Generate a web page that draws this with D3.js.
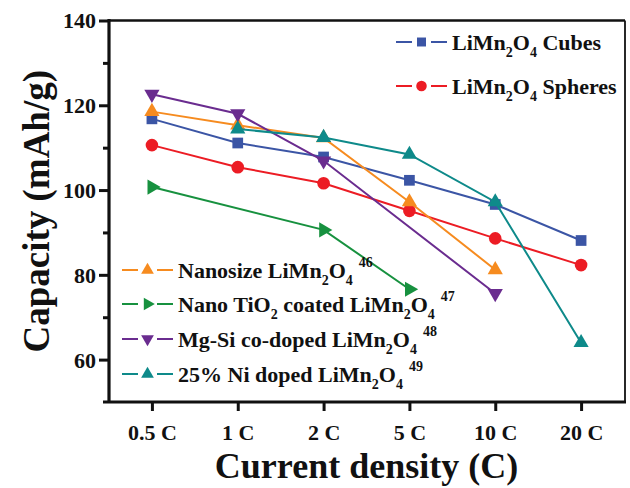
<!DOCTYPE html>
<html>
<head>
<meta charset="utf-8">
<script src="https://cdn.jsdelivr.net/npm/d3@7"></script>
<style>
  html, body { margin: 0; padding: 0; background: #fff; }
  svg { display: block; }
</style>
</head>
<body>
<svg id="chart" width="630" height="488"></svg>
<script>
// ---- data ----
const categories = ["0.5 C", "1 C", "2 C", "5 C", "10 C", "20 C"];
const cubes    = [116.8, 111.1, 107.8, 102.3, 96.6, 88.1];
const spheres  = [110.6, 105.4, 101.6, 95.1, 88.6, 82.3];
const nanosize = [118.5, 115.3, 112.3, 97.2, 81.2, null];
const tio2     = [100.7, null, 90.6, 76.6, null, null];
const mgsi     = [122.6, 118.0, 106.9, null, 75.6, null];
const ni       = [null, 114.4, 112.4, 108.4, 97.2, 64.0];
const yMajorTicks = [60, 80, 100, 120, 140];
const yMinorTicks = [70, 90, 110, 130];

const seriesValues = [cubes, spheres, nanosize, tio2, mgsi, ni];
const seriesColors = ["#3b55a5", "#ec1c24", "#f68b1f", "#17913f", "#6a2c8f", "#0e8a8a"];
const seriesShapes = ["square", "circle", "up", "right", "down", "up"];

const FONT = "Liberation Serif";
const svg = d3.select("#chart");
const L = 109, R = 624, T = 20.5, B = 402;

const x = d3.scalePoint().domain(categories).range([L, R]).padding(0.5);
const y = d3.scaleLinear().domain([50, 140]).range([B, T]);

function symbolPath(shape, scale) {
  const s = scale || 1;
  if (shape === "square") return d3.symbol(d3.symbolSquare, 115 * s)();
  if (shape === "circle") return d3.symbol(d3.symbolCircle, 125 * s)();
  return d3.symbol(d3.symbolTriangle, 100 * s)();
}
function symbolRot(shape) {
  if (shape === "down") return 180;
  if (shape === "right") return 90;
  return 0;
}
function styleText(sel, size) {
  sel.style("font-family", FONT).style("font-weight", "bold").style("font-size", size + "px").style("fill", "#111");
}

// ---- frame (top/right) ----
svg.append("line").attr("x1", L).attr("x2", R + 1).attr("y1", T).attr("y2", T)
  .attr("stroke", "#111").attr("stroke-width", 2.5);
svg.append("line").attr("x1", R + 1).attr("x2", R + 1).attr("y1", T).attr("y2", B)
  .attr("stroke", "#111").attr("stroke-width", 1.8);

// ---- axes ----
const yAxis = svg.append("g").attr("transform", `translate(${L},0)`)
  .call(d3.axisLeft(y).tickValues(yMajorTicks).tickSize(10).tickSizeOuter(0).tickPadding(3));
yAxis.select(".domain").remove();
yAxis.selectAll(".tick line").attr("stroke", "#111").attr("stroke-width", 3);
yAxis.selectAll(".tick text").call(styleText, 22).attr("dy", "0.34em");

const yMinor = svg.append("g").attr("transform", `translate(${L},0)`)
  .call(d3.axisLeft(y).tickValues(yMinorTicks).tickSize(6).tickFormat(""));
yMinor.select(".domain").remove();
yMinor.selectAll(".tick line").attr("stroke", "#111").attr("stroke-width", 3);

svg.append("line").attr("x1", L).attr("x2", L).attr("y1", T - 1.5).attr("y2", B)
  .attr("stroke", "#111").attr("stroke-width", 3.2);

const xAxis = svg.append("g").attr("transform", `translate(0,${B})`)
  .call(d3.axisBottom(x).tickSize(9).tickSizeOuter(0).tickPadding(13));
xAxis.select(".domain").remove();
xAxis.selectAll(".tick line").attr("stroke", "#111").attr("stroke-width", 3);
xAxis.selectAll(".tick text").call(styleText, 22);

svg.append("line").attr("x1", L - 6).attr("x2", R + 2).attr("y1", B).attr("y2", B)
  .attr("stroke", "#111").attr("stroke-width", 3.2);

// ---- axis titles ----
svg.append("text").attr("x", (L + R) / 2).attr("y", 478).attr("text-anchor", "middle")
  .call(styleText, 36).text("Current density (C)");
svg.append("text").attr("transform", `translate(49,${(T + B) / 2}) rotate(-90)`)
  .attr("text-anchor", "middle").call(styleText, 37).text("Capacity (mAh/g)");

// ---- series ----
const line = d3.line().x(d => x(d.c)).y(d => y(d.v));
seriesValues.forEach((vals, i) => {
  const pts = vals.map((v, j) => ({ c: categories[j], v })).filter(d => d.v != null);
  const g = svg.append("g");
  g.append("path").datum(pts).attr("d", line).attr("fill", "none")
    .attr("stroke", seriesColors[i]).attr("stroke-width", 2);
  g.selectAll("path.m").data(pts).join("path").attr("class", "m")
    .attr("d", symbolPath(seriesShapes[i]))
    .attr("transform", d => `translate(${x(d.c)},${y(d.v)}) rotate(${symbolRot(seriesShapes[i])})`)
    .attr("fill", seriesColors[i]);
});

// ---- legends ----
function legendEntry(lx, ly, idx, parts, sup) {
  const g = svg.append("g");
  g.append("line").attr("x1", lx).attr("x2", lx + 51).attr("y1", ly).attr("y2", ly)
    .attr("stroke", seriesColors[idx]).attr("stroke-width", 2);
  g.append("rect").attr("x", lx + 16).attr("y", ly - 4).attr("width", 19).attr("height", 8).attr("fill", "#fff");
  g.append("path").attr("d", symbolPath(seriesShapes[idx], 0.7))
    .attr("transform", `translate(${lx + 25.5},${ly}) rotate(${symbolRot(seriesShapes[idx])})`)
    .attr("fill", seriesColors[idx]);
  const t = g.append("text").attr("x", lx + 56).attr("y", ly + 8).call(styleText, 22);
  let shifted = false;
  parts.forEach(p => {
    if (p.sub) {
      t.append("tspan").attr("dy", shifted ? 0 : 7).style("font-size", "14px").text(p.sub);
      shifted = true;
    } else {
      t.append("tspan").attr("dy", shifted ? -7 : 0).text(p.t);
      shifted = false;
    }
  });
  if (sup) {
    t.append("tspan").attr("dx", 6).attr("dy", shifted ? -18 : -11).style("font-size", "14px").text(sup);
  }
}
const lmo = [{ t: "LiMn" }, { sub: "2" }, { t: "O" }, { sub: "4" }];
legendEntry(396, 42, 0, [...lmo, { t: " Cubes" }]);
legendEntry(396, 86, 1, [...lmo, { t: " Spheres" }]);
legendEntry(122, 270, 2, [{ t: "Nanosize " }, ...lmo], "46");
legendEntry(122, 304, 3, [{ t: "Nano TiO" }, { sub: "2" }, { t: " coated " }, ...lmo], "47");
legendEntry(122, 339, 4, [{ t: "Mg-Si co-doped " }, ...lmo], "48");
legendEntry(122, 374, 5, [{ t: "25% Ni doped " }, ...lmo], "49");
</script>
</body>
</html>
